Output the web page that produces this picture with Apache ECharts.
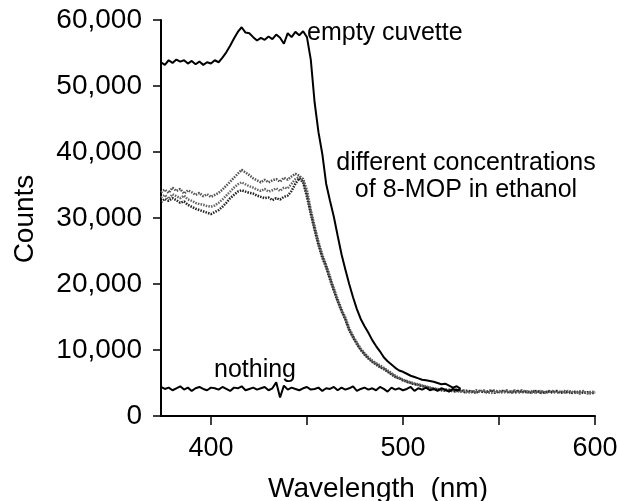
<!DOCTYPE html>
<html>
<head>
<meta charset="utf-8">
<script src="https://cdn.jsdelivr.net/npm/echarts@6/dist/echarts.min.js"></script>
<style>html,body{margin:0;padding:0;background:#fff}#chart{width:617px;height:501px}</style>
</head>
<body>
<div id="chart"></div>
<script>
const wavelengths = [374,376,378,380,382,384,386,388,390,392,394,396,398,400,402,404,406,408,410,412,414,416,418,420,422,424,426,428,430,432,434,436,438,440,442,444,446,448,450,452,454,456,458,460,462,464,466,468,470,472,474,476,478,480,482,484,486,488,490,492,494,496,498,500,502,504,506,508,510,512,514,516,518,520,522,524,526,528,530,532,534,536,538,540,542,544,546,548,550,552,554,556,558,560,562,564,566,568,570,572,574,576,578,580,582,584,586,588,590,592,594,596,598,600];

const emptyCuvette = [53600,53200,53900,53500,54000,53700,53900,53400,53800,53300,53700,53200,53600,53400,53900,53600,54300,55100,56100,57200,58200,58900,58100,58000,57400,56900,57300,57000,57500,57100,57800,57300,56400,58000,57400,58200,57700,58300,57400,54000,47500,43000,39700,35200,32600,30200,27300,24500,22200,20000,18000,16200,14700,13600,12600,11500,10600,9800,8900,8300,7800,7300,6900,6700,6400,6100,5900,5700,5500,5400,5300,5200,5000,4800,4900,4600,4300,4500,4100];

const nothing = [4400,4100,4300,3900,4200,4500,4000,4300,3800,4200,4400,4100,3900,4300,4200,4000,4400,4100,3800,4300,4200,4500,3900,4100,4300,4000,4200,4400,3900,4200,5100,2800,4600,4000,4300,4100,3900,4200,4400,4000,4100,4300,3800,4200,4100,4400,3900,4300,4000,4200,4500,3800,4100,4300,4000,4200,3900,4400,4100,3700,4300,4000,4200,3900,4100,4400,3800,4200,4000,4300,3900,4100,3800,4200,4000,3700,4100,3900,4000];

const ethanolA = [33900,34300,33800,34600,34100,34400,33700,34200,33900,33500,33800,33300,33600,33200,33500,33800,34300,34900,35500,36100,36700,37300,36900,36500,36000,35700,35400,35800,35400,35700,35900,35500,36100,35800,36300,36700,36400,35900,34200,31200,28700,26400,24400,22900,21100,19300,17700,16200,14900,13300,12100,11100,10200,9500,8900,8400,8000,7700,7300,6900,6500,6100,5800,5500,5300,5100,4900,4800,4600,4500,4300,4200,4100,4000,4100,3800,3900,4000,3700,3900,3800,3600,3900,3700,3800,3500,3800,3900,3600,3700,3900,3500,3800,3700,3900,3600,3700,3800,3500,3700,3600,3800,3500,3700,3600,3800,3500,3600,3700,3400,3600,3500,3700,3500];

const ethanolB = [32400,32900,32600,33000,32700,32300,32500,32000,31700,31400,31200,31000,30800,30600,30900,31200,31700,32300,33000,33500,34000,34200,34000,33800,33700,33400,33200,33000,33100,32700,33000,32800,33200,33400,34100,35200,36000,35400,33200,30600,28200,25900,24000,22500,20700,19000,17400,15900,14600,13000,11900,10900,10000,9300,8700,8200,7800,7400,7100,6700,6300,5900,5700,5400,5200,5000,4800,4700,4500,4400,4200,4100,4000,3900,3800,4000,3700,3800,3900,3600,3800,3700,3500,3800,3600,3700,3900,3500,3700,3800,3600,3700,3500,3800,3600,3700,3500,3700,3800,3500,3600,3700,3600,3800,3500,3600,3700,3500,3600,3700,3500,3600,3400,3600];

const ethanolC = [33100,33500,32900,33600,33300,33000,33400,32800,32600,32300,32100,32000,31800,31700,31900,32300,32800,33400,34000,34600,35100,35400,35100,34800,34600,34300,34100,34400,34000,34200,34500,34100,34600,34500,35200,35900,36200,35600,33700,30900,28400,26100,24200,22700,20900,19100,17500,16000,14700,13100,12000,11000,10100,9400,8800,8300,7900,7500,7200,6800,6400,6000,5700,5500,5200,5000,4900,4700,4600,4400,4300,4100,4000,4100,3900,3800,4000,3700,3800,3700,3500,3800,3600,3700,3900,3600,3500,3700,3800,3500,3700,3600,3900,3500,3700,3800,3600,3500,3700,3800,3500,3600,3800,3500,3700,3500,3800,3700,3500,3600,3800,3400,3600,3700];

const xLabelValues = [400, 500, 600];
const xTickValues = [400, 450, 500, 550, 600];

function pairs(vals) {
  const out = [];
  for (let i = 0; i < vals.length; i++) out.push([wavelengths[i], vals[i]]);
  return out;
}

const FONT = '"Liberation Sans", Arial, Helvetica, sans-serif';
const chart = echarts.init(document.getElementById('chart'), null, {renderer: 'canvas'});

const dottedSeries = (name, vals, color) => ({
  name, type: 'line', data: pairs(vals), showSymbol: false, symbol: 'none',
  lineStyle: {color, width: 2.5, type: [1.5, 1.2]}, z: 2, silent: true
});

chart.setOption({
  animation: false,
  backgroundColor: '#fff',
  grid: {left: 161, right: 22, top: 20, bottom: 85, containLabel: false, outerBoundsMode: 'none'},
  xAxis: {
    type: 'value', min: 374, max: 600,
    axisLine: {show: true, onZero: false, lineStyle: {color: '#000', width: 2}},
    axisTick: {show: true, length: 9, customValues: xTickValues, lineStyle: {color: '#000', width: 1.5}},
    axisLabel: {customValues: xLabelValues, color: '#000', fontSize: 27, fontFamily: FONT, margin: 19},
    splitLine: {show: false}
  },
  yAxis: {
    type: 'value', min: 0, max: 60000, interval: 10000,
    axisLine: {show: true, lineStyle: {color: '#000', width: 2}},
    axisTick: {show: true, length: 8, lineStyle: {color: '#000', width: 1.5}},
    axisLabel: {color: '#000', fontSize: 28, fontFamily: FONT, margin: 19,
      formatter: v => v.toLocaleString('en-US')},
    splitLine: {show: false}
  },
  series: [
    dottedSeries('ethanol A', ethanolA, '#555'),
    dottedSeries('ethanol B', ethanolB, '#222'),
    dottedSeries('ethanol C', ethanolC, '#666'),
    {name: 'empty cuvette', type: 'line', data: pairs(emptyCuvette), showSymbol: false, symbol: 'none',
      lineStyle: {color: '#000', width: 2}, z: 3, silent: true},
    {name: 'nothing', type: 'line', data: pairs(nothing), showSymbol: false, symbol: 'none',
      lineStyle: {color: '#000', width: 2}, z: 3, silent: true}
  ],
  graphic: [
    {type: 'text', x: 25, y: 219, rotation: Math.PI / 2,
      style: {text: 'Counts', font: '28px ' + FONT, fill: '#000', align: 'center', verticalAlign: 'middle'}},
    {type: 'text', x: 378, y: 489,
      style: {text: 'Wavelength  (nm)', font: '28px ' + FONT, fill: '#000', align: 'center', verticalAlign: 'middle'}},
    {type: 'text', x: 307, y: 33,
      style: {text: 'empty cuvette', font: '25px ' + FONT, fill: '#000', align: 'left', verticalAlign: 'middle'}},
    {type: 'text', x: 466, y: 163,
      style: {text: 'different concentrations', font: '25px ' + FONT, fill: '#000', align: 'center', verticalAlign: 'middle'}},
    {type: 'text', x: 466, y: 190,
      style: {text: 'of 8-MOP in ethanol', font: '25px ' + FONT, fill: '#000', align: 'center', verticalAlign: 'middle'}},
    {type: 'text', x: 255, y: 370,
      style: {text: 'nothing', font: '25px ' + FONT, fill: '#000', align: 'center', verticalAlign: 'middle'}}
  ]
});
</script>
</body>
</html>
